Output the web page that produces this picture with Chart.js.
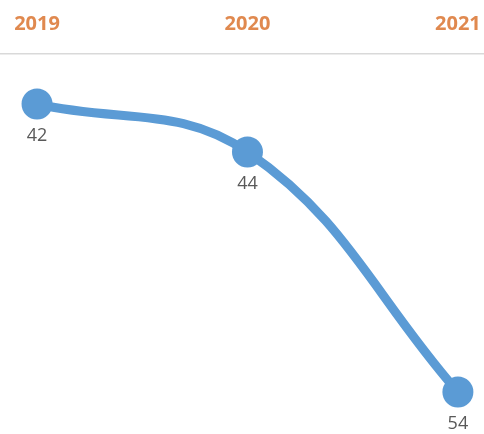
<!DOCTYPE html>
<html>
<head>
<meta charset="utf-8">
<script src="https://cdn.jsdelivr.net/npm/chart.js@4"></script>
<style>
html,body{margin:0;padding:0;background:#fff;}
#wrap{width:484px;height:434px;}
</style>
</head>
<body>
<div id="wrap"><canvas id="c"></canvas></div>
<script>
const years = ['2019', '2020', '2021'];
const values = [42, 44, 54];

const points = values.map((v, i) => ({x: i, y: v}));

const dataLabels = {
  id: 'dataLabels',
  afterDatasetsDraw(chart) {
    const ctx = chart.ctx;
    const meta = chart.getDatasetMeta(0);
    ctx.save();
    ctx.font = '18px "Open Sans", sans-serif';
    ctx.fillStyle = '#595959';
    ctx.textAlign = 'center';
    ctx.textBaseline = 'middle';
    meta.data.forEach((el, i) => {
      ctx.fillText(String(values[i]), el.x, el.y + 32);
    });
    ctx.restore();
  }
};

new Chart(document.getElementById('c'), {
  type: 'line',
  data: {
    datasets: [{
      data: points,
      borderColor: '#5B9BD5',
      backgroundColor: '#5B9BD5',
      borderWidth: 9,
      tension: 0.4,
      pointRadius: 15.5,
      pointHoverRadius: 15.5,
      pointBackgroundColor: '#5B9BD5',
      pointBorderWidth: 0,
      clip: false
    }]
  },
  options: {
    responsive: true,
    maintainAspectRatio: false,
    animation: false,
    layout: {padding: {top: -6, left: 0, right: 0, bottom: 0}, autoPadding: false},
    plugins: {legend: {display: false}, tooltip: {enabled: false}},
    scales: {
      x: {
        type: 'linear',
        position: 'top',
        min: -0.176,
        max: 2.124,
        grid: {display: false, drawTicks: false},
        border: {display: true, color: '#d9d9d9', width: 1.5},
        afterBuildTicks: (scale) => { scale.ticks = years.map((_, i) => ({value: i})); },
        afterFit: (scale) => { scale.paddingLeft = 0; scale.paddingRight = 0; },
        ticks: {
          autoSkip: false,
          maxRotation: 0,
          padding: 18,
          color: '#E0894F',
          font: {family: '"Open Sans", sans-serif', size: 20, weight: 'bold'},
          callback: (v) => years[v]
        }
      },
      y: {
        display: false,
        reverse: true,
        min: 39.917,
        max: 55.75
      }
    }
  },
  plugins: [dataLabels]
});
</script>
</body>
</html>
